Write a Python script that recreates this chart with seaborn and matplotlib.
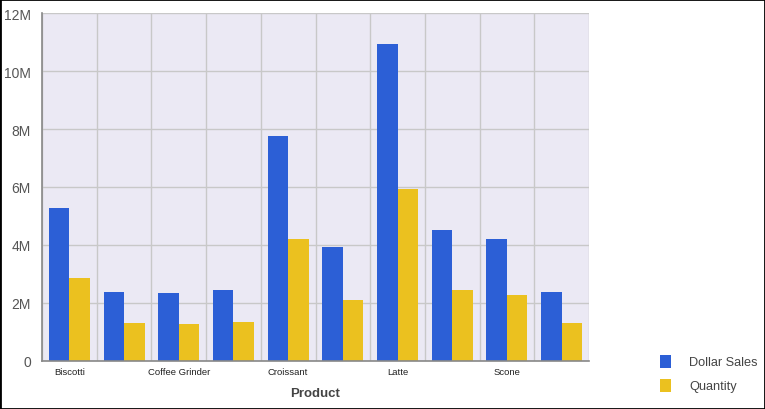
import matplotlib
matplotlib.use("Agg")
import matplotlib.pyplot as plt
import pandas as pd
import seaborn as sns
from matplotlib.patches import Rectangle, Patch
from matplotlib.ticker import FuncFormatter, MultipleLocator

# data (values in dollars / units)
products = ["Biscotti", "Capuccino", "Coffee Grinder", "Coffee Pot", "Croissant",
            "Espresso", "Latte", "Mug", "Scone", "Thermos"]
dollar_sales = [5.28e6, 2.38e6, 2.34e6, 2.45e6, 7.76e6, 3.93e6, 10.94e6, 4.52e6, 4.21e6, 2.38e6]
quantity = [2.86e6, 1.31e6, 1.28e6, 1.34e6, 4.21e6, 2.10e6, 5.93e6, 2.45e6, 2.28e6, 1.31e6]
series = ["Dollar Sales", "Quantity"]
y_ticks = [0, 2e6, 4e6, 6e6, 8e6, 10e6, 12e6]

colors = {"Dollar Sales": "#2C5FD6", "Quantity": "#EBC11F"}

df = pd.DataFrame({
    "Product": products * 2,
    "series": [series[0]] * len(products) + [series[1]] * len(products),
    "value": dollar_sales + quantity,
})

sns.set_style("white")
plt.rcParams["font.family"] = ["Liberation Sans", "DejaVu Sans"]

fig = plt.figure(figsize=(7.65, 4.1), dpi=100)
fig.patch.set_facecolor("white")
ax = fig.add_axes([42 / 765, 48 / 410, 547 / 765, 348 / 410])

sns.barplot(data=df, x="Product", y="value", hue="series", palette=colors,
            width=0.75, saturation=1, errorbar=None, ax=ax, legend=False,
            edgecolor="none", linewidth=0)

ax.set_facecolor("#EBE9F4")
ax.set_xlim(-0.5, len(products) - 0.5)
ax.set_ylim(0, 12e6)
ax.set_yticks(y_ticks)
ax.yaxis.set_major_formatter(FuncFormatter(lambda v, p: "0" if v == 0 else f"{v / 1e6:.0f}M"))
ax.tick_params(axis="y", length=0, labelsize=10, labelcolor="#555555", pad=8)

# vertical grid lines on category boundaries, horizontal on major ticks
ax.xaxis.set_minor_locator(MultipleLocator(1, offset=0.5))
ax.set_xticks(range(len(products)))
ax.set_xticklabels([p if i % 2 == 0 else "" for i, p in enumerate(products)])
ax.tick_params(axis="x", which="both", length=0, labelsize=6.8, labelcolor="#222222", pad=4)
ax.grid(axis="y", which="major", color="#C8C8C8", linewidth=1)
ax.grid(axis="x", which="minor", color="#C8C8C8", linewidth=1)
ax.set_axisbelow(True)

for side in ["top", "right"]:
    ax.spines[side].set_visible(False)
for side in ["left", "bottom"]:
    ax.spines[side].set_color("#888888")
    ax.spines[side].set_linewidth(1.2)

ax.set_xlabel("Product", fontsize=9.5, fontweight="bold", color="#444444", labelpad=8)
ax.set_ylabel("")

handles = [Patch(facecolor=colors[s], edgecolor="none") for s in series]
fig.legend(handles, series, loc="lower left", bbox_to_anchor=(648 / 765, 5 / 410),
           frameon=False, fontsize=9.2, labelcolor="#444444",
           handlelength=0.9, handleheight=1.2, handletextpad=1.4, labelspacing=0.8)

fig.patches.append(Rectangle((0, 0), 1, 1, transform=fig.transFigure, fill=False,
                             edgecolor="black", linewidth=2))

fig.savefig("out.png", dpi=100)
